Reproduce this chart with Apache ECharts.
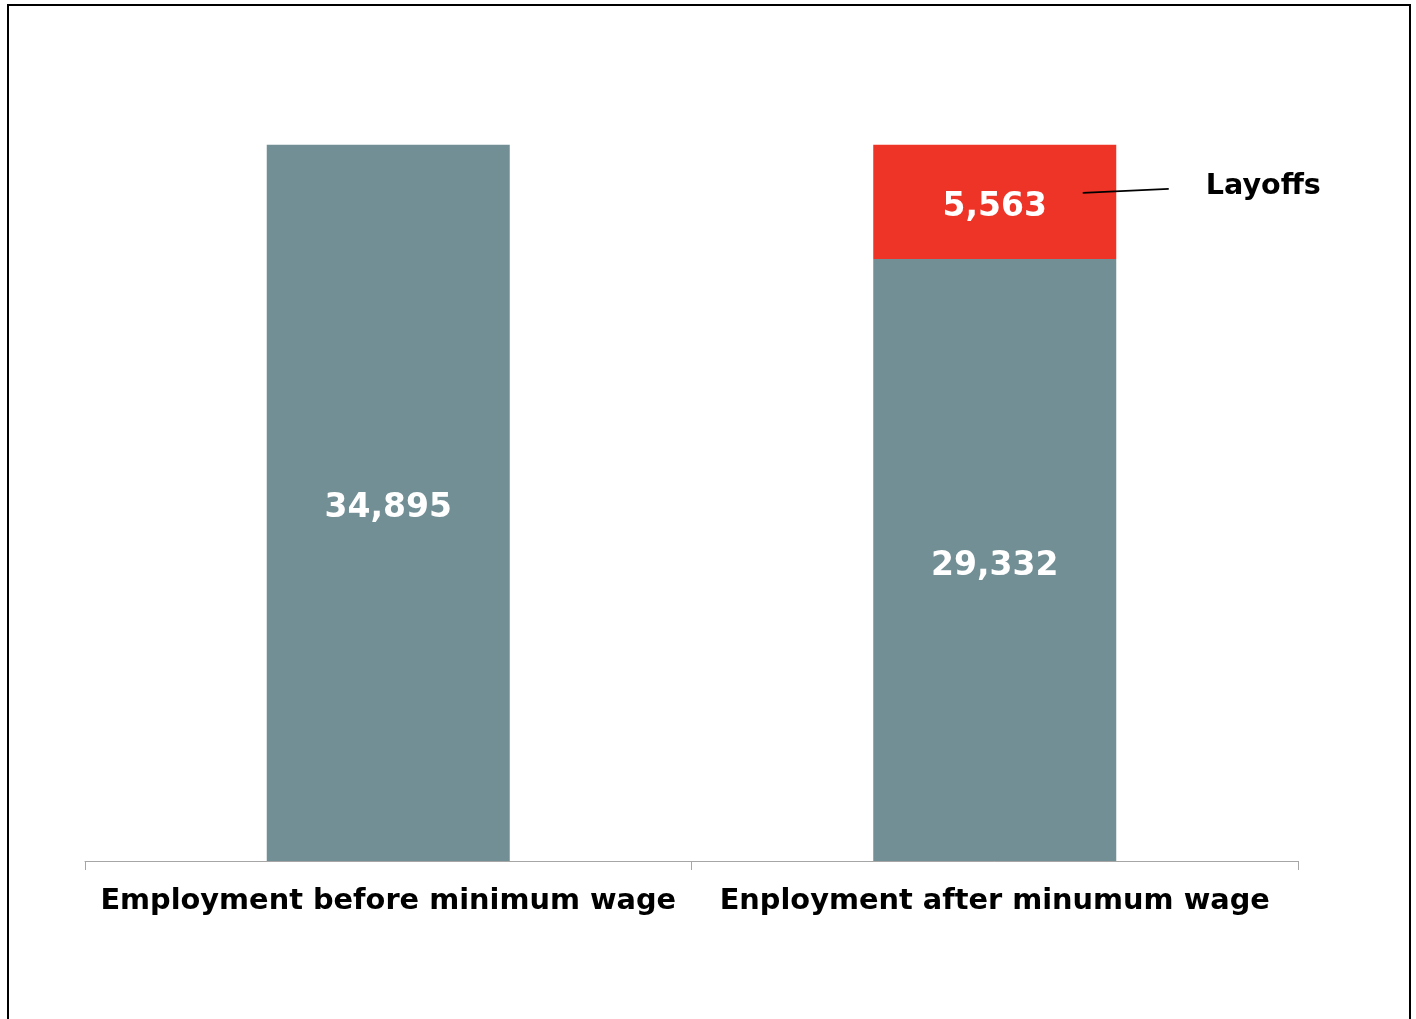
<!DOCTYPE html>
<html><head><meta charset="utf-8">
<script src="https://cdn.jsdelivr.net/npm/echarts@6/dist/echarts.min.js"></script>
<style>html,body{margin:0;padding:0;background:#fff}#c{width:1416px;height:1019px}</style>
</head><body><div id="c"></div>
<script>
const categories = ['Employment before minimum wage', 'Enployment after minumum wage'];
const employed = [34895, 29332];
const layoffs = [null, 5563];
const layoffsName = 'Layoffs';

const FONT = '"DejaVu Sans", Verdana, sans-serif';
const chart = echarts.init(document.getElementById('c'));
const fmt = p => p.value == null ? '' : Number(p.value).toLocaleString('en-US');
const valLabel = {show: true, position: 'inside', offset: [0, 6], color: '#fff', fontFamily: FONT, fontWeight: 'bold', fontSize: 33, formatter: fmt};
chart.setOption({
  animation: false,
  grid: {left: 85, right: 118, top: 40, bottom: 158},
  xAxis: {
    type: 'category', data: categories,
    axisLine: {lineStyle: {color: '#a6a6a6', width: 1}},
    axisTick: {show: true, length: 9, alignWithLabel: false, lineStyle: {color: '#a6a6a6'}},
    axisLabel: {color: '#000', fontFamily: FONT, fontWeight: 'bold', fontSize: 28.8, margin: 26, interval: 0}
  },
  yAxis: {type: 'value', min: 0, max: 40000, show: false, splitLine: {show: false}},
  series: [
    {type: 'bar', stack: 'a', data: employed, barWidth: 243, itemStyle: {color: '#728f96'}, label: valLabel},
    {type: 'bar', stack: 'a', name: layoffsName, data: layoffs, barWidth: 243, itemStyle: {color: '#ee3427'}, label: valLabel}
  ]
});
const pt = chart.convertToPixel({gridIndex: 0}, [1, employed[1] + layoffs[1] / 2]);
chart.setOption({
  graphic: [
    {type: 'rect', z: 100, shape: {x: 8, y: 5, width: 1402, height: 1100}, style: {fill: 'none', stroke: '#000', lineWidth: 2}, silent: true},
    {type: 'line', z: 100, shape: {x1: pt[0] + 88, y1: pt[1] - 9, x2: pt[0] + 174, y2: pt[1] - 13}, style: {stroke: '#000', lineWidth: 1.6}},
    {type: 'text', z: 100, x: pt[0] + 211, y: pt[1] - 15, style: {text: layoffsName, fill: '#000', font: 'bold 28.6px ' + FONT, textVerticalAlign: 'middle'}}
  ]
});
</script></body></html>
